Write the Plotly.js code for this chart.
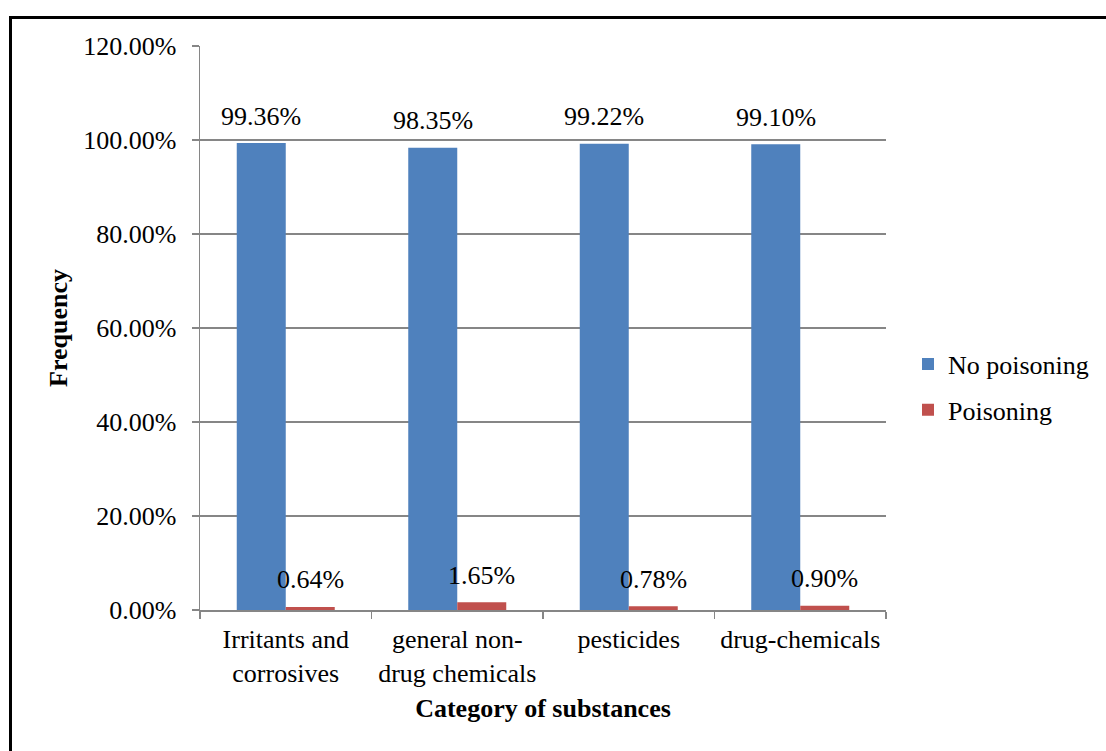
<!DOCTYPE html>
<html>
<head>
<meta charset="utf-8">
<script src="https://cdn.plot.ly/plotly-3.0.1.min.js"></script>
<style>
  html, body { margin: 0; padding: 0; background: #fff; }
  #chart { width: 1106px; height: 751px; }
  #frame { position: absolute; left: 9px; top: 16px; width: 1200px; height: 800px;
           border-left: 3px solid #000; border-top: 3px solid #000; pointer-events: none; }
</style>
</head>
<body>
<div id="chart"></div>
<div id="frame"></div>
<script>
const categories = ["Irritants and<br>corrosives", "general non-<br>drug chemicals", "pesticides", "drug-chemicals"];
const noPoisoning = [0.9936, 0.9835, 0.9922, 0.9910];
const poisoning = [0.0064, 0.0165, 0.0078, 0.0090];
const seriesNames = ["No poisoning", "Poisoning"];
const seriesColors = ["#4F81BD", "#C0504D"];

const FONT = "Liberation Serif, Times New Roman, serif";
const FS = 26;

const bargap = 0.4286;
const plotW = 1106 - 200 - 220;
const catW = plotW / categories.length;
const barW = catW * (1 - bargap) / 2;

const traces = [noPoisoning, poisoning].map((vals, i) => ({
  type: 'bar',
  name: seriesNames[i],
  x: categories,
  y: vals,
  marker: { color: seriesColors[i], line: { width: 0 } },
  legendgroup: 'g' + i,
  hoverinfo: 'skip'
}));

const annotations = [];
[noPoisoning, poisoning].forEach((vals, i) => {
  vals.forEach((v, j) => {
    annotations.push({
      x: categories[j], y: v, xref: 'x', yref: 'y',
      text: (v * 100).toFixed(2) + '%',
      showarrow: false,
      xshift: (i === 0 ? -1 : 1) * barW / 2,
      yanchor: 'middle',
      yshift: 27,
      font: { family: FONT, size: FS, color: '#000' }
    });
  });
});

const layout = {
  width: 1106, height: 751,
  margin: { l: 200, r: 220, t: 46, b: 141 },
  paper_bgcolor: '#fff', plot_bgcolor: '#fff',
  font: { family: FONT, size: FS, color: '#000' },
  barmode: 'group', bargap: bargap, bargroupgap: 0,
  showlegend: true,
  legend: {
    xref: 'container', yref: 'container',
    x: 1094 / 1106, xanchor: 'right', y: 1 - 387 / 751, yanchor: 'middle',
    font: { family: FONT, size: FS, color: '#000' },
    tracegroupgap: 9, itemwidth: 30, traceorder: 'grouped'
  },
  xaxis: {
    type: 'category', automargin: false,
    showline: true, linecolor: '#868686', linewidth: 1.5,
    ticks: 'outside', tickson: 'boundaries', ticklen: 7, tickcolor: '#868686', tickwidth: 1.5,
    tickangle: 0, ticklabelstandoff: 5,
    showgrid: false, zeroline: false,
    tickfont: { family: FONT, size: FS, color: '#000' },
    title: { text: '<b>Category of substances</b>', standoff: 12, font: { family: FONT, size: FS, color: '#000' } }
  },
  yaxis: {
    range: [0, 1.2], dtick: 0.2, tick0: 0, tickformat: '.2%', automargin: false,
    showline: true, linecolor: '#868686', linewidth: 1.5,
    ticks: 'outside', ticklen: 7, tickcolor: '#868686', tickwidth: 1.5,
    showgrid: true, gridcolor: '#868686', gridwidth: 1.5,
    zeroline: false,
    ticklabelstandoff: 10,
    tickfont: { family: FONT, size: FS, color: '#000' },
    title: { text: '<b>Frequency</b>', standoff: 8, font: { family: FONT, size: FS, color: '#000' } }
  },
  annotations: annotations
};

Plotly.newPlot('chart', traces, layout, { displayModeBar: false, staticPlot: true });
</script>
</body>
</html>
